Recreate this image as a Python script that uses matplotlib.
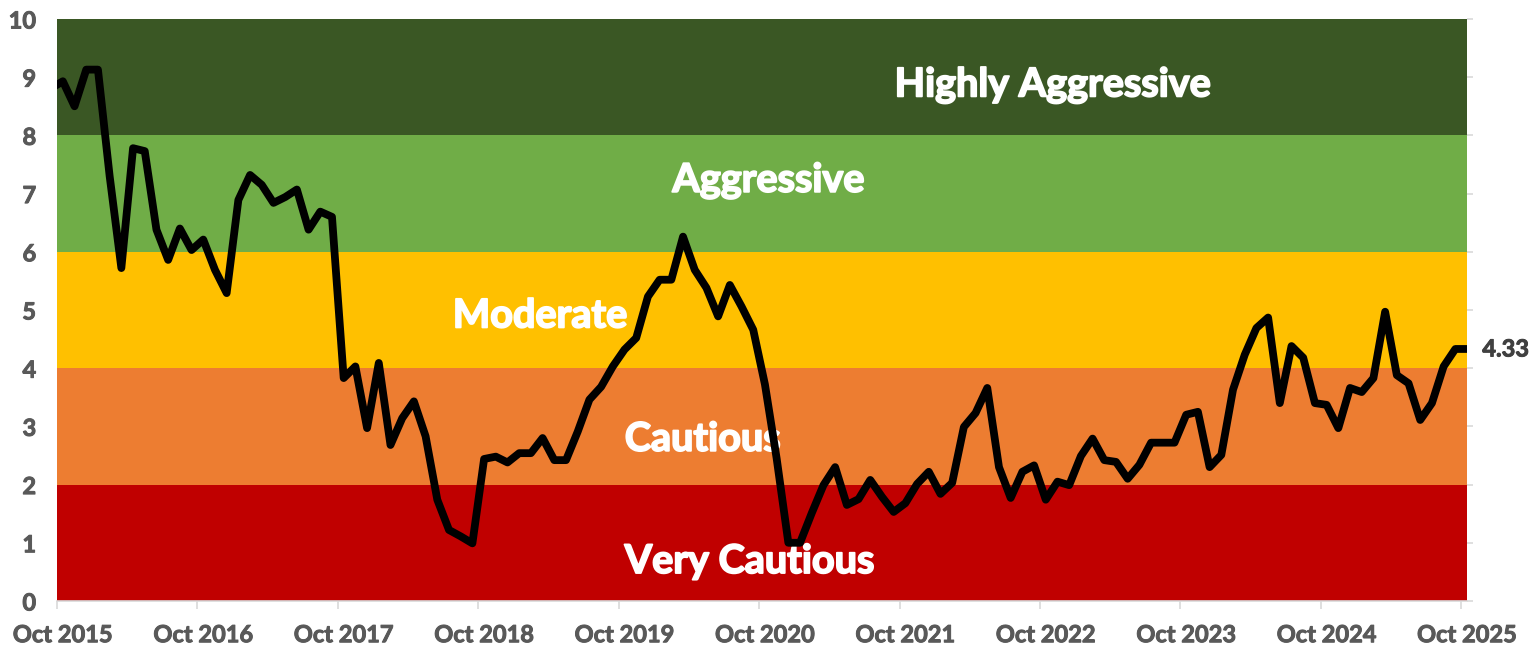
import matplotlib
matplotlib.use("Agg")
import matplotlib.pyplot as plt
import matplotlib.patheffects as pe
import numpy as np

plt.rcParams["font.family"] = ["Lato", "DejaVu Sans"]

# monthly readings; the first one (Sep 2015) sits just left of the axis and is clipped
scores = [
    8.81,
    8.93, 8.50, 9.13, 9.13, 7.30, 5.72, 7.78, 7.73, 6.38, 5.86,
    6.40, 6.03, 6.21, 5.69, 5.29, 6.89, 7.32, 7.15, 6.84, 6.94,
    7.07, 6.38, 6.69, 6.60, 3.83, 4.03, 2.97, 4.09, 2.68, 3.14,
    3.43, 2.83, 1.74, 1.22, 1.11, 0.99, 2.44, 2.48, 2.38, 2.54,
    2.54, 2.80, 2.42, 2.42, 2.91, 3.46, 3.68, 4.03, 4.32, 4.52,
    5.23, 5.52, 5.52, 6.26, 5.69, 5.38, 4.89, 5.43, 5.06, 4.66,
    3.72, 2.45, 1.00, 1.00, 1.51, 1.99, 2.30, 1.65, 1.75, 2.08,
    1.79, 1.53, 1.68, 2.01, 2.22, 1.84, 2.03, 2.99, 3.23, 3.66,
    2.30, 1.77, 2.22, 2.33, 1.74, 2.05, 1.99, 2.49, 2.79, 2.42,
    2.39, 2.10, 2.34, 2.72, 2.72, 2.72, 3.20, 3.25, 2.30, 2.51,
    3.63, 4.23, 4.69, 4.87, 3.40, 4.38, 4.18, 3.40, 3.37, 2.97,
    3.66, 3.59, 3.83, 4.97, 3.88, 3.74, 3.11, 3.40, 4.03, 4.33,
    4.33,
]

band_names = ["Very Cautious", "Cautious", "Moderate", "Aggressive", "Highly Aggressive"]
band_lows = [0, 2, 4, 6, 8]
band_highs = [2, 4, 6, 8, 10]
band_colors = ["#C00000", "#ED7D31", "#FFC000", "#70AD47", "#3A5724"]
# label anchors (month index from Oct 2015, score at text baseline)
band_label_x = [58.7, 54.7, 40.8, 60.3, 84.6]
band_label_y = [0.48, 2.58, 4.70, 7.03, 8.67]

year_labels = [f"Oct {y}" for y in range(2015, 2026)]

x = np.arange(len(scores)) - 1  # Oct 2015 -> 0

fig = plt.figure(figsize=(15.32, 6.46), dpi=100)
ax = fig.add_axes([0.0372, 0.0697, 0.9204, 0.9009])

for lo, hi, col in zip(band_lows, band_highs, band_colors):
    ax.axhspan(lo, hi, color=col, lw=0, zorder=0)

# a thin stroke in the fill colour makes the bold face a bit heavier
heavy_white = [pe.withStroke(linewidth=1.3, foreground="white")]
heavy_gray = [pe.withStroke(linewidth=0.7, foreground="#595959")]

for name, bx, by in zip(band_names, band_label_x, band_label_y):
    ax.text(bx, by, name, color="white", fontsize=28.5, fontweight="bold",
            ha="center", va="baseline", zorder=1, path_effects=heavy_white)

ax.plot(x, scores, color="black", lw=5.6, solid_joinstyle="round",
        solid_capstyle="round", zorder=3)

ax.annotate(f"{scores[-1]:.2f}", xy=(x[-1], scores[-1]), xytext=(11, 0),
            textcoords="offset points", ha="left", va="center",
            fontsize=17, fontweight="bold", color="#404040",
            annotation_clip=False,
            path_effects=[pe.withStroke(linewidth=0.7, foreground="#404040")])

ax.set_xlim(-0.5, x[-1])
ax.set_ylim(0, 10)

ax.set_xticks(np.arange(0, 121, 12))
ax.set_xticklabels(year_labels)
ax.set_xticks(np.arange(-0.5, 121, 12), minor=True)
ax.tick_params(axis="x", which="major", length=0, pad=16,
               labelsize=17, labelcolor="#595959")
ax.tick_params(axis="x", which="minor", length=6, width=1.2, color="#D9D9D9")
for lab in ax.get_xticklabels():
    lab.set_fontweight("bold")
    lab.set_path_effects(heavy_gray)

ax.set_yticks(np.arange(0, 11, 1))
ax.tick_params(axis="y", left=False, right=True, labelleft=True, labelright=False,
               length=4, width=1.2, color="#D9D9D9", pad=11,
               labelsize=17, labelcolor="#595959")
for lab in ax.get_yticklabels():
    lab.set_fontweight("bold")
    lab.set_path_effects(heavy_gray)

for side in ["top", "left", "right"]:
    ax.spines[side].set_visible(False)
ax.spines["bottom"].set_color("#D9D9D9")
ax.spines["bottom"].set_linewidth(1.2)

fig.savefig("out.png", dpi=100)
